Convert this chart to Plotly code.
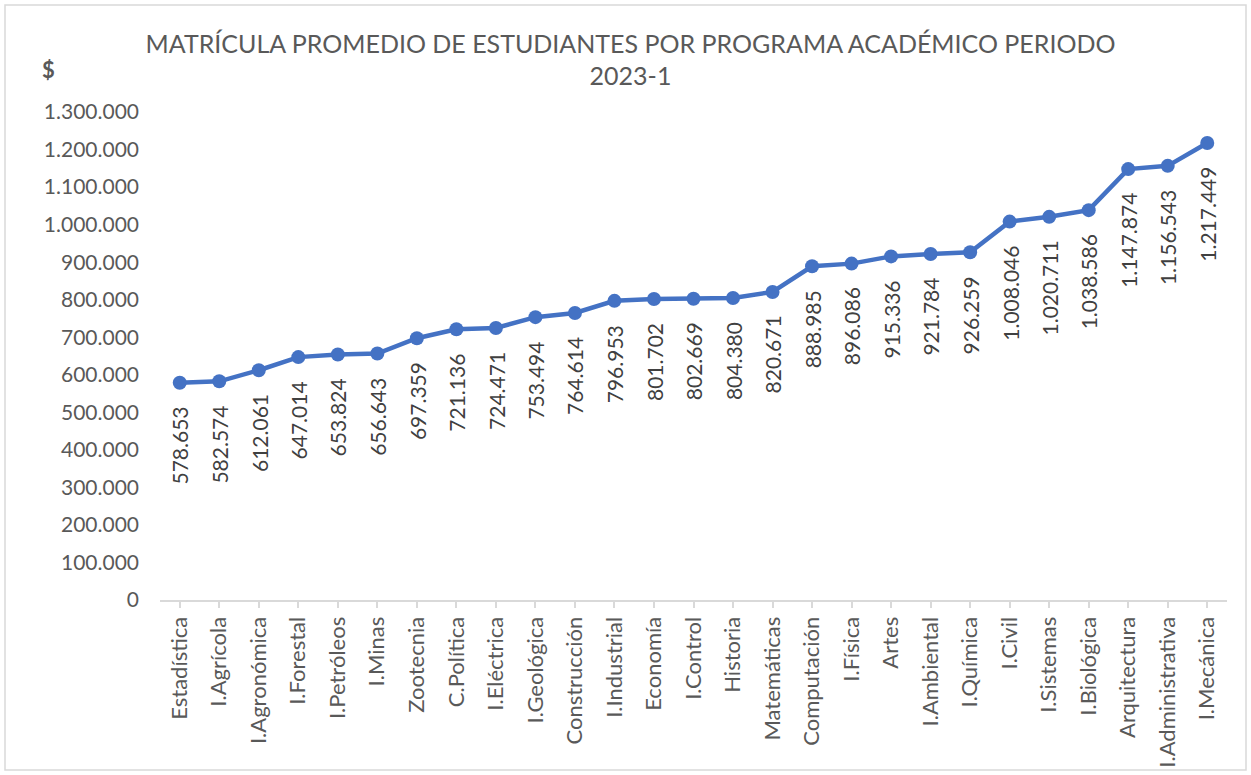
import plotly.graph_objects as go

programas = ["Estadística", "I.Agrícola", "I.Agronómica", "I.Forestal", "I.Petróleos", "I.Minas",
             "Zootecnia", "C.Política", "I.Eléctrica", "I.Geológica", "Construcción", "I.Industrial",
             "Economía", "I.Control", "Historia", "Matemáticas", "Computación", "I.Física", "Artes",
             "I.Ambiental", "I.Química", "I.Civil", "I.Sistemas", "I.Biológica", "Arquitectura",
             "I.Administrativa", "I.Mecánica"]
matricula = [578653, 582574, 612061, 647014, 653824, 656643, 697359, 721136, 724471, 753494,
             764614, 796953, 801702, 802669, 804380, 820671, 888985, 896086, 915336, 921784,
             926259, 1008046, 1020711, 1038586, 1147874, 1156543, 1217449]
y_ticks = list(range(0, 1300001, 100000))


def fmt(v):
    return f"{v:,}".replace(",", ".")


FONT = "Lato, 'Open Sans', sans-serif"
BLUE = "#4472C4"

fig = go.Figure()
fig.add_trace(go.Scatter(
    x=list(range(len(programas))), y=matricula, mode="lines+markers",
    line=dict(color=BLUE, width=4.5), marker=dict(color=BLUE, size=14),
    hoverinfo="skip", showlegend=False, cliponaxis=False))

for i, v in enumerate(matricula):
    fig.add_annotation(x=i, y=v, xref="x", yref="y", text=fmt(v), showarrow=False,
                       textangle=-90, yanchor="top", xanchor="center", yshift=-22,
                       font=dict(family=FONT, size=21, color="#404040"))

fig.add_annotation(text="<b>$</b>", showarrow=False, xref="paper", yref="paper",
                   x=-112 / 1067, y=1 + 42 / 488, xanchor="center", yanchor="middle",
                   font=dict(family=FONT, size=22, color="#595959"))

fig.update_layout(
    width=1251, height=775,
    margin=dict(l=160, r=24, t=112, b=175, autoexpand=False),
    paper_bgcolor="white", plot_bgcolor="white",
    title=dict(text="MATRÍCULA PROMEDIO DE ESTUDIANTES POR PROGRAMA ACADÉMICO PERIODO<br>2023-1",
               x=0.504, xanchor="center", y=0.932, yanchor="top",
               font=dict(family=FONT, size=25, color="#595959")),
    font=dict(family=FONT, color="#595959"),
    xaxis=dict(range=[-0.5, len(programas) - 0.5], tickmode="array",
               tickvals=list(range(len(programas))), ticktext=programas,
               tickangle=-90, showgrid=False, zeroline=False, showline=True, automargin=False,
               linecolor="#D9D9D9", linewidth=2, ticks="outside", tickcolor="#D9D9D9",
               ticklen=6, tickwidth=1.5, tickfont=dict(family=FONT, size=22, color="#595959")),
    yaxis=dict(range=[0, 1300000], tickmode="array", tickvals=y_ticks, automargin=False,
               ticktext=[fmt(t) for t in y_ticks], showgrid=False, zeroline=False,
               showline=False, ticks="", ticklabelstandoff=20,
               tickfont=dict(family=FONT, size=21, color="#595959")),
    shapes=[dict(type="rect", xref="paper", yref="paper",
                 x0=-155 / 1067, x1=1 + 19 / 1067, y0=-170 / 488, y1=1 + 107 / 488,
                 line=dict(color="#D9D9D9", width=1.5), fillcolor="rgba(0,0,0,0)", layer="below")],
)

fig.write_html("out.html", config={"displayModeBar": False},
               post_script="document.body.style.margin='0';")
